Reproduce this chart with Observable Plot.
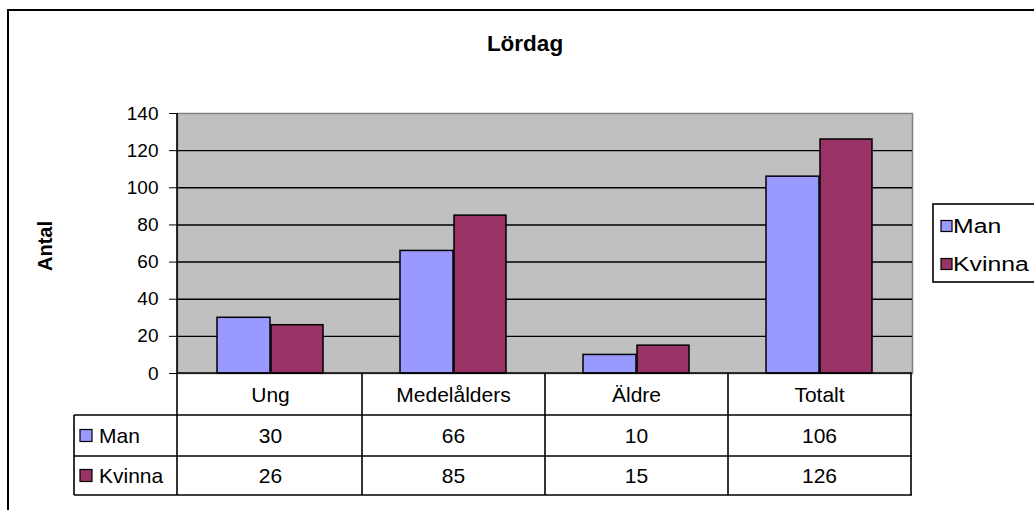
<!DOCTYPE html>
<html>
<head>
<meta charset="utf-8">
<script src="https://cdn.jsdelivr.net/npm/d3@7"></script>
<script src="https://cdn.jsdelivr.net/npm/@observablehq/plot@0.6"></script>
<style>
  html, body { margin: 0; padding: 0; background: #fff; }
  svg { display: block; }
</style>
</head>
<body>
<div id="chart"></div>
<script>
const categories = ["Ung", "Medelålders", "Äldre", "Totalt"];
const seriesNames = ["Man", "Kvinna"];
const manValues = [30, 66, 10, 106];
const kvinnaValues = [26, 85, 15, 126];
const yTicks = [0, 20, 40, 60, 80, 100, 120, 140];
const chartTitle = "Lördag";
const yTitle = "Antal";
const seriesColors = ["#9999ff", "#993366"];

const valuesBySeries = [manValues, kvinnaValues];
const rows = categories.flatMap((c, i) =>
  seriesNames.map((s, j) => ({category: c, series: s, value: valuesBySeries[j][i]}))
);

const FONT = "'Liberation Sans', Arial, Helvetica, sans-serif";
const TXT = 21;

function chrome(index, scales, values, dims) {
  const x = scales.x, y = scales.y;
  const plotW = dims.width - dims.marginLeft - dims.marginRight;
  let bw = plotW / categories.length;
  if (x && typeof x.bandwidth === "function") bw = x.bandwidth();
  else if (x && typeof x.bandwidth === "number") bw = x.bandwidth;
  const left = dims.marginLeft, right = dims.width - dims.marginRight;
  const y0 = y(0), yTop = y(140);
  const rowEdges = [y0, y0 + 42, y0 + 83, y0 + 122];
  const tableLeft = 74;

  const g = d3.create("svg:g").attr("font-family", FONT).attr("fill", "black");

  // outer chart border
  g.append("rect").attr("x", 8).attr("y", 10).attr("width", 1060).attr("height", 540)
    .attr("fill", "none").attr("stroke", "#000").attr("stroke-width", 2);

  // title
  g.append("text").attr("x", 525).attr("y", 43).attr("dy", "0.35em")
    .attr("text-anchor", "middle").attr("font-weight", "bold").attr("font-size", 22.5)
    .text(chartTitle);

  // y title
  g.append("text").attr("transform", "translate(45,246) rotate(-90)").attr("dy", "0.35em")
    .attr("text-anchor", "middle").attr("font-weight", "bold").attr("font-size", 20)
    .text(yTitle);

  // axis line (left) continuing into table
  g.append("line").attr("x1", left).attr("x2", left).attr("y1", yTop).attr("y2", rowEdges[3])
    .attr("stroke", "#000").attr("stroke-width", 1.6);
  // zero line
  g.append("line").attr("x1", left).attr("x2", right).attr("y1", y0).attr("y2", y0)
    .attr("stroke", "#000").attr("stroke-width", 1.6);

  // table horizontal lines
  for (let k = 1; k < rowEdges.length; k++) {
    g.append("line").attr("x1", tableLeft).attr("x2", right).attr("y1", rowEdges[k]).attr("y2", rowEdges[k])
      .attr("stroke", "#000").attr("stroke-width", 1.6);
  }
  // table left edge
  g.append("line").attr("x1", tableLeft).attr("x2", tableLeft).attr("y1", rowEdges[1]).attr("y2", rowEdges[3])
    .attr("stroke", "#000").attr("stroke-width", 1.6);
  // band boundaries
  categories.forEach(c => {
    const xr = x(c) + bw;
    g.append("line").attr("x1", xr).attr("x2", xr).attr("y1", y0).attr("y2", rowEdges[3])
      .attr("stroke", "#000").attr("stroke-width", 1.6);
  });

  // header row
  categories.forEach(c => {
    g.append("text").attr("x", x(c) + bw / 2).attr("y", (rowEdges[0] + rowEdges[1]) / 2 + 1)
      .attr("dy", "0.35em").attr("text-anchor", "middle").attr("font-size", TXT).text(c);
  });
  // value rows
  seriesNames.forEach((s, j) => {
    const cy = (rowEdges[j + 1] + rowEdges[j + 2]) / 2;
    g.append("rect").attr("x", 80).attr("y", cy - 6).attr("width", 12).attr("height", 12)
      .attr("fill", seriesColors[j]).attr("stroke", "#000").attr("stroke-width", 1.2);
    g.append("text").attr("x", 99).attr("y", cy).attr("dy", "0.35em")
      .attr("text-anchor", "start").attr("font-size", TXT).text(s);
    categories.forEach((c, i) => {
      g.append("text").attr("x", x(c) + bw / 2).attr("y", cy).attr("dy", "0.35em")
        .attr("text-anchor", "middle").attr("font-size", TXT).text(valuesBySeries[j][i]);
    });
  });

  // legend
  g.append("rect").attr("x", 933).attr("y", 204).attr("width", 140).attr("height", 78)
    .attr("fill", "#fff").attr("stroke", "#000").attr("stroke-width", 1.6);
  seriesNames.forEach((s, j) => {
    const cy = 226 + j * 38;
    g.append("rect").attr("x", 941).attr("y", cy - 5.5).attr("width", 11).attr("height", 11)
      .attr("fill", seriesColors[j]).attr("stroke", "#000").attr("stroke-width", 1.2);
    g.append("text").attr("transform", `translate(953,${cy}) scale(1.18,1)`).attr("dy", "0.35em")
      .attr("text-anchor", "start").attr("font-size", TXT).text(s);
  });

  return g.node();
}

const chart = Plot.plot({
  width: 1034,
  height: 510,
  marginLeft: 177,
  marginRight: 122,
  marginTop: 113,
  marginBottom: 137,
  style: {fontFamily: FONT, fontSize: "19px", color: "#000", background: "#fff", overflow: "visible"},
  x: {type: "band", domain: categories, padding: 0, axis: null},
  y: {domain: [0, 140], ticks: yTicks, tickSize: 8, tickPadding: 11, label: null, tickFormat: d => String(d)},
  marks: [
    Plot.frame({fill: "#c0c0c0", stroke: "#808080", strokeWidth: 1.5}),
    Plot.ruleY(yTicks.filter(t => t > 0 && t < 140), {stroke: "#000", strokeWidth: 1.4}),
    Plot.barY(rows.filter(d => d.series === "Man"), {
      x: "category", y: "value", fill: seriesColors[0], stroke: "#000", strokeWidth: 1.5,
      insetLeft: 38, insetRight: 92
    }),
    Plot.barY(rows.filter(d => d.series === "Kvinna"), {
      x: "category", y: "value", fill: seriesColors[1], stroke: "#000", strokeWidth: 1.5,
      insetLeft: 92, insetRight: 39
    }),
    chrome
  ]
});

document.getElementById("chart").appendChild(chart);
</script>
</body>
</html>
